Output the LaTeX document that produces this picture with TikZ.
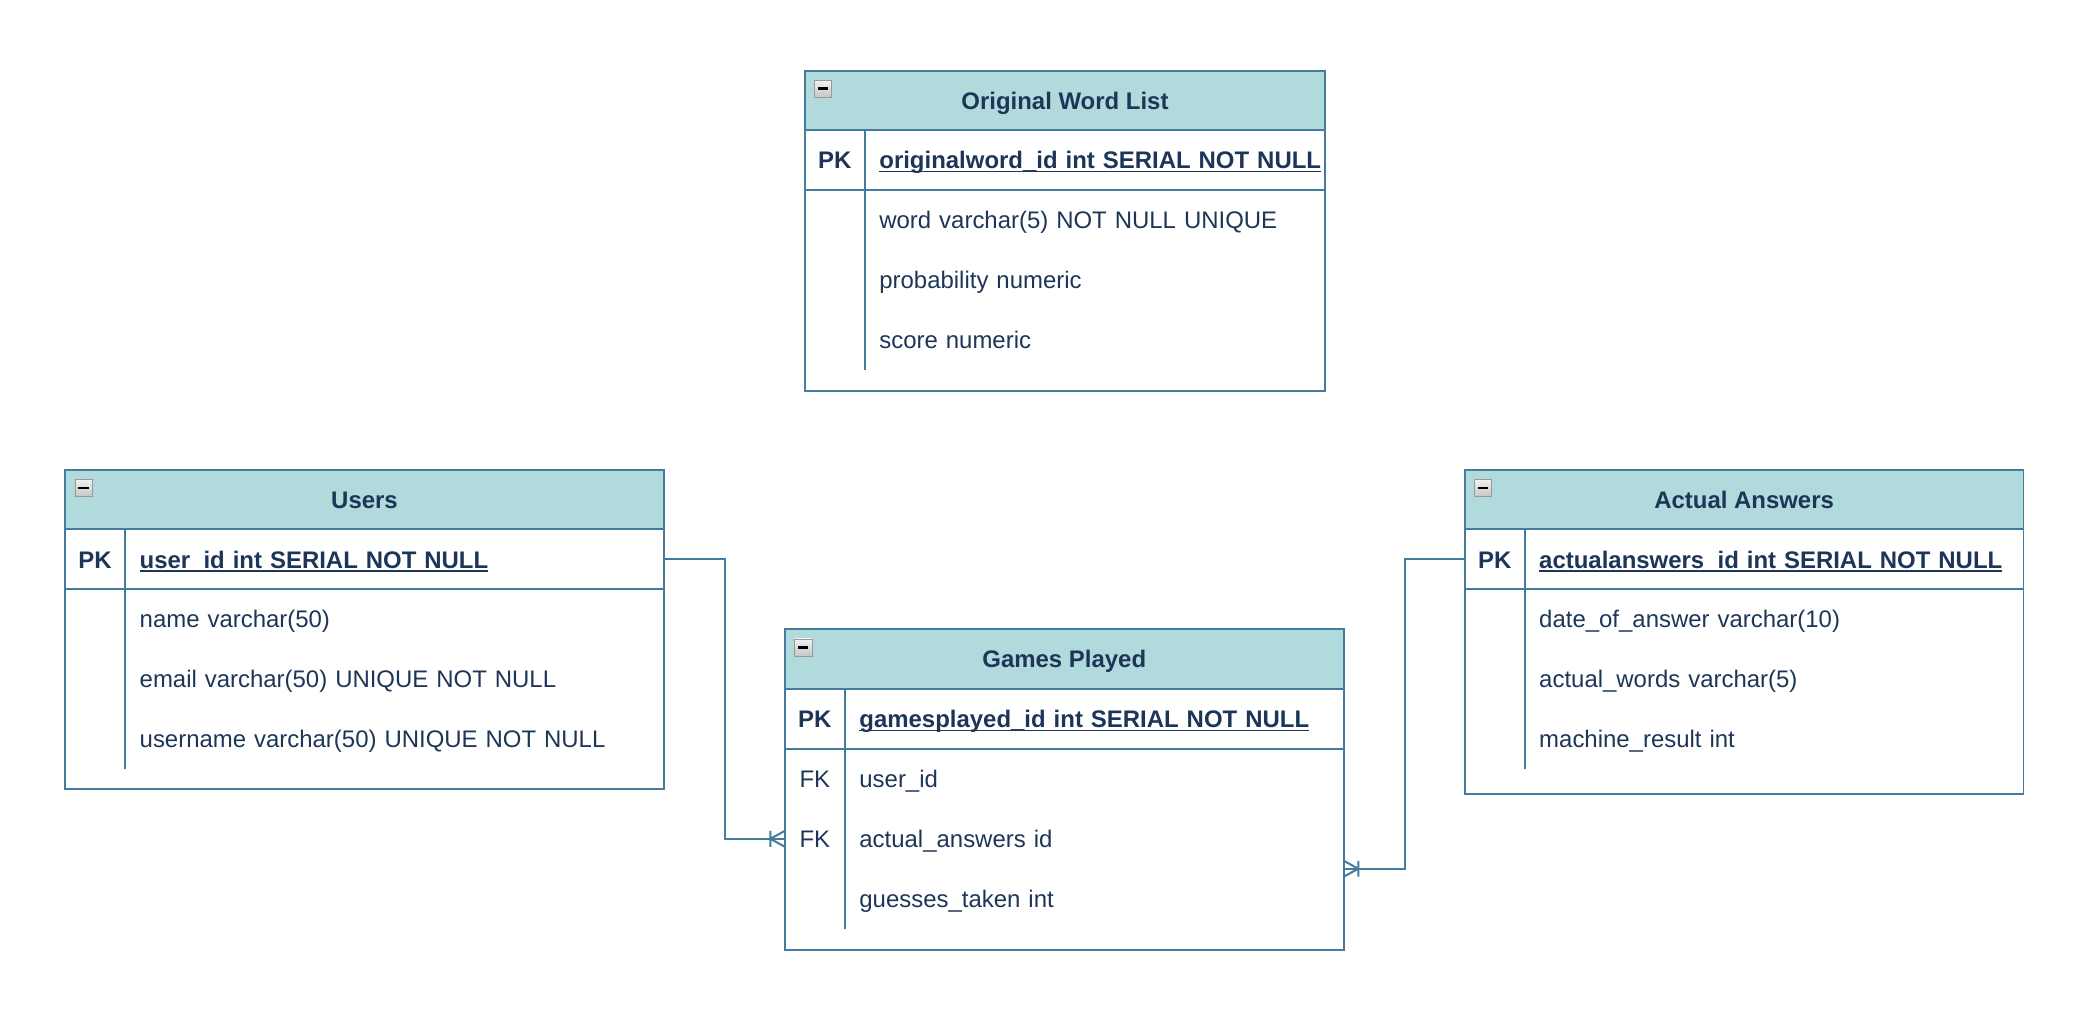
\documentclass[tikz,border=0pt]{standalone}
\usepackage{fontspec}
\setmainfont{Liberation Sans}
\usetikzlibrary{positioning,decorations.markings}
\definecolor{erline}{HTML}{457B9D}
\definecolor{erhead}{HTML}{B0DADC}
\definecolor{ertext}{HTML}{1D3557}
\newsavebox\pkbox
\newcommand{\pkline}[1]{\sbox\pkbox{#1}\rlap{\color{ertext}\rule[-2.6pt]{\wd\pkbox}{1.1pt}}\usebox\pkbox}
\newcommand{\erfont}{\fontsize{18pt}{22pt}\selectfont}
\tikzset{
  tbl/.style={draw=erline, line width=1.5pt, outer sep=0pt},
  hdr/.style={tbl, fill=erhead, minimum height=45pt, inner sep=0pt, text height=17pt, text depth=4pt, font=\erfont\bfseries},
  field/.style={minimum height=45pt, inner ysep=0pt, inner xsep=11pt, outer sep=0pt, text width=#1, align=left, text height=17pt, text depth=4pt, font=\erfont},
  pkrow/.style={field=#1, tbl, font=\erfont\bfseries},
  keycell/.style={minimum width=45pt, minimum height=45pt, inner sep=0pt, outer sep=0pt, text height=17pt, text depth=4pt, font=\erfont},
  pkkey/.style={keycell, tbl, font=\erfont\bfseries},
  minus/.style={draw=gray!80, top color=gray!10, bottom color=gray!45, minimum size=13pt, inner sep=0pt, anchor=north west,
    path picture={\fill[black] ([xshift=2.5pt,yshift=-1pt]path picture bounding box.west) rectangle ([xshift=-2.5pt,yshift=1pt]path picture bounding box.east);}},
  rel/.style={draw=erline, line width=1.5pt},
  crowfoot/.style={postaction={decorate, decoration={markings, mark=at position 1 with {\draw[rel] (-11pt,-6pt) -- (-11pt,6pt) (0,-6pt) -- (-11pt,0) -- (0,6pt);}}}}
}
\begin{document}
\begin{tikzpicture}[x=1pt, y=-1pt, text=ertext]
\useasboundingbox (0,0) rectangle (1568,768);

\node[hdr, minimum width=391pt] (owl) at (800.5,75.5) {Original Word List};
\node[minus] (owl-min) at ([xshift=7pt,yshift=-7pt]owl.north west) {};
\node[pkrow=324pt, below left=0pt and 0pt of owl.south east] (owl-pk) {\pkline{originalword\_id int SERIAL NOT NULL}};
\node[pkkey, left=0pt of owl-pk] (owl-pk-k) {PK};
\node[field=324pt, below=0pt of owl-pk] (owl-r1) {word varchar(5) NOT NULL UNIQUE};
\node[field=324pt, below=0pt of owl-r1] (owl-r2) {probability numeric};
\node[field=324pt, below=0pt of owl-r2] (owl-r3) {score numeric};
\draw[tbl] (owl-pk-k.south west) rectangle ([yshift=-16pt]owl-r3.south east);
\draw[tbl] (owl-pk-k.south east) -- (owl-r3.south west);

\node[hdr, minimum width=450pt] (users) at (274,375.5) {Users};
\node[minus] (users-min) at ([xshift=7pt,yshift=-7pt]users.north west) {};
\node[pkrow=383pt, below left=0pt and 0pt of users.south east] (users-pk) {\pkline{user\_id int SERIAL NOT NULL}};
\node[pkkey, left=0pt of users-pk] (users-pk-k) {PK};
\node[field=383pt, below=0pt of users-pk] (users-r1) {name varchar(50)};
\node[field=383pt, below=0pt of users-r1] (users-r2) {email varchar(50) UNIQUE NOT NULL};
\node[field=383pt, below=0pt of users-r2] (users-r3) {username varchar(50) UNIQUE NOT NULL};
\draw[tbl] (users-pk-k.south west) rectangle ([yshift=-15pt]users-r3.south east);
\draw[tbl] (users-pk-k.south east) -- (users-r3.south west);

\node[hdr, minimum width=420pt] (gp) at (800,495.5) {Games Played};
\node[minus] (gp-min) at ([xshift=7pt,yshift=-7pt]gp.north west) {};
\node[pkrow=353pt, below left=0pt and 0pt of gp.south east] (gp-pk) {\pkline{gamesplayed\_id int SERIAL NOT NULL}};
\node[pkkey, left=0pt of gp-pk] (gp-pk-k) {PK};
\node[field=353pt, below=0pt of gp-pk] (gp-r1) {user\_id};
\node[keycell, left=0pt of gp-r1] (gp-r1-k) {FK};
\node[field=353pt, below=0pt of gp-r1] (gp-r2) {actual\_answers id};
\node[keycell, left=0pt of gp-r2] (gp-r2-k) {FK};
\node[field=353pt, below=0pt of gp-r2] (gp-r3) {guesses\_taken int};
\draw[tbl] (gp-pk-k.south west) rectangle ([yshift=-16pt]gp-r3.south east);
\draw[tbl] (gp-pk-k.south east) -- (gp-r3.south west);

\node[hdr, minimum width=420pt] (aa) at (1311,375.5) {Actual Answers};
\node[minus] (aa-min) at ([xshift=7pt,yshift=-7pt]aa.north west) {};
\node[pkrow=353pt, below left=0pt and 0pt of aa.south east] (aa-pk) {\pkline{actualanswers\_id int SERIAL NOT NULL}};
\node[pkkey, left=0pt of aa-pk] (aa-pk-k) {PK};
\node[field=353pt, below=0pt of aa-pk] (aa-r1) {date\_of\_answer varchar(10)};
\node[field=353pt, below=0pt of aa-r1] (aa-r2) {actual\_words varchar(5)};
\node[field=353pt, below=0pt of aa-r2] (aa-r3) {machine\_result int};
\draw[tbl] (aa-pk-k.south west) rectangle ([yshift=-19pt]aa-r3.south east);
\draw[tbl] (aa-pk-k.south east) -- (aa-r3.south west);

\draw[rel, crowfoot] (users-pk.east) -- ++(46,0) |- (gp-r2-k.west);
\draw[rel, crowfoot] (aa-pk-k.west) -- ++(-45,0) |- (gp-r2.south east);
\end{tikzpicture}
\end{document}
